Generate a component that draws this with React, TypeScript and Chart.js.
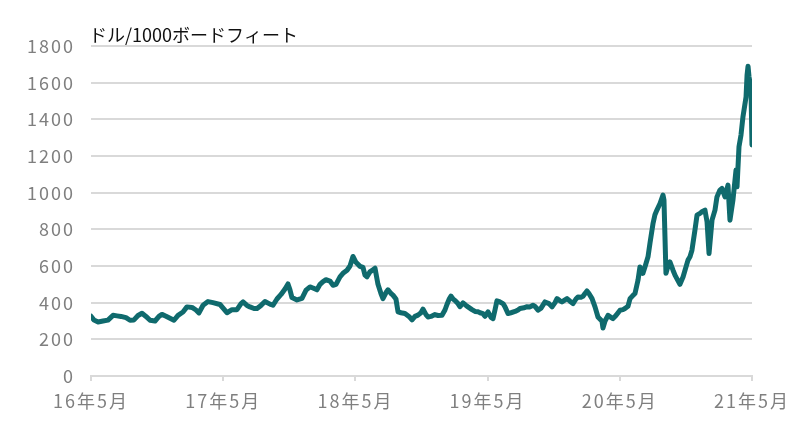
import React, { useEffect, useRef } from "react";
import { Chart, registerables } from "chart.js";

Chart.register(...registerables);

const unitLabel = "ドル/1000ボードフィート";
const xTickLabels = ["16年5月", "17年5月", "18年5月", "19年5月", "20年5月", "21年5月"];

// months elapsed since May 2016
const months = [
  0, 0.27, 0.64, 1.09, 1.54, 2.0, 2.36, 2.72, 3.18, 3.54, 3.9, 4.27, 4.63, 4.99, 5.36, 5.81,
  6.17, 6.44, 6.81, 7.17, 7.53, 7.9, 8.35, 8.71, 9.17, 9.53, 9.8, 10.17, 10.62, 11.07, 11.71,
  12.07, 12.34, 12.8, 13.25, 13.62, 13.8, 14.16, 14.43, 14.8, 15.07, 15.43, 15.79, 16.25, 16.52,
  16.88, 17.25, 17.61, 17.88, 18.06, 18.24, 18.7, 19.15, 19.52, 19.88, 20.15, 20.51, 20.79,
  21.06, 21.33, 21.69, 21.97, 22.24, 22.6, 22.87, 23.24, 23.51, 23.78, 24.05, 24.42, 24.69,
  24.87, 25.05, 25.32, 25.6, 25.78, 26.05, 26.32, 26.5, 26.78, 26.96, 27.23, 27.41, 27.68,
  27.87, 28.14, 28.5, 28.86, 29.14, 29.41, 29.68, 29.95, 30.14, 30.41, 30.59, 30.86, 31.22,
  31.5, 31.86, 32.13, 32.31, 32.5, 32.68, 32.86, 33.04, 33.31, 33.49, 33.77, 34.04, 34.22,
  34.58, 34.86, 35.13, 35.31, 35.58, 35.76, 36.04, 36.31, 36.49, 36.67, 36.85, 37.12, 37.4,
  37.58, 37.85, 38.12, 38.49, 38.76, 38.94, 39.3, 39.58, 39.85, 40.12, 40.3, 40.58, 40.85,
  41.21, 41.57, 41.85, 42.12, 42.3, 42.57, 42.75, 43.03, 43.21, 43.48, 43.75, 44.02, 44.2,
  44.48, 44.66, 44.84, 45.02, 45.2, 45.48, 45.75, 46.02, 46.2, 46.38, 46.47, 46.66, 46.93,
  47.2, 47.38, 47.65, 48.02, 48.29, 48.47, 48.74, 48.93, 49.2, 49.38, 49.65, 49.83, 50.1,
  50.29, 50.56, 50.74, 51.01, 51.19, 51.37, 51.65, 51.92, 52.01, 52.1, 52.19, 52.37, 52.55,
  52.83, 53.01, 53.19, 53.46, 53.74, 53.92, 54.19, 54.37, 54.55, 54.82, 55.01, 55.28, 55.46,
  55.73, 55.92, 56.1, 56.37, 56.64, 56.82, 57.09, 57.27, 57.55, 57.82, 58.0, 58.27, 58.55,
  58.64, 58.82, 59.0, 59.18, 59.46, 59.55, 59.64, 59.73, 59.82, 59.91, 60.0,
];

// lumber futures, USD per 1000 board feet
const prices = [
  326, 305, 295, 300, 305, 331, 328, 325, 318, 304, 306, 330, 342, 325, 304, 300,
  325, 336, 326, 315, 304, 331, 349, 377, 374, 360, 344, 386, 406, 400, 390,
  365, 345, 362, 362, 395, 404, 385, 377, 368, 368, 385, 406, 392, 386,
  420, 445, 475, 502, 470, 428, 415, 424, 468, 486, 480, 470, 500,
  515, 525, 518, 495, 500, 541, 560, 577, 600, 652, 620, 598, 592,
  550, 541, 568, 580, 588, 500, 450, 422, 455, 470, 450, 441, 420,
  350, 345, 341, 325, 306, 325, 332, 345, 365, 335, 322, 325, 335,
  330, 331, 360, 390, 418, 436, 420, 412, 395, 378, 399, 385, 377,
  362, 352, 350, 345, 340, 326, 350, 320, 313, 360, 410, 404, 395,
  377, 341, 345, 352, 360, 368, 372, 378, 377, 386, 380, 359, 370,
  404, 395, 377, 400, 422, 410, 404, 415, 422, 408, 395, 420, 431,
  430, 435, 450, 464, 450, 422, 377, 322, 310, 300, 262, 300, 331,
  320, 313, 330, 359, 362, 368, 380, 422, 440, 450, 522, 595, 560,
  596, 650, 725, 830, 880, 905, 941, 987, 960, 760, 560, 600, 622,
  577, 550, 530, 500, 540, 577, 632, 650, 686, 796, 877, 887, 896,
  905, 841, 668, 850, 905, 977, 1014, 1023, 977, 1041, 850, 959, 1123,
  1032, 1251, 1314, 1414, 1523, 1640, 1690, 1632, 1600, 1560, 1260,
];

const yMin = 0;
const yMax = 1800;
const yStep = 200;

const FONT = '"Noto Sans CJK JP", "Noto Sans", sans-serif';

const spacingPlugin = {
  id: "tickSpacing",
  beforeDraw(chart: any) {
    (chart.ctx as any).letterSpacing = "2px";
  },
};

const unitLabelPlugin = {
  id: "unitLabel",
  afterDraw(chart: any) {
    const { ctx, chartArea } = chart;
    ctx.save();
    (ctx as any).letterSpacing = "0px";
    ctx.font = `18px ${FONT}`;
    ctx.fillStyle = "#111111";
    ctx.textAlign = "left";
    ctx.textBaseline = "middle";
    ctx.fillText(unitLabel, chartArea.left - 2, chartArea.top - 11);
    ctx.restore();
  },
};

export default function App() {
  const ref = useRef<HTMLCanvasElement>(null);

  useEffect(() => {
    if (!ref.current) return;
    const chart = new Chart(ref.current, {
      type: "line",
      data: {
        datasets: [
          {
            data: months.map((m, i) => ({ x: m, y: prices[i] })),
            borderColor: "#0f6a6d",
            borderWidth: 5,
            pointRadius: 0,
            tension: 0,
            borderJoinStyle: "round",
            borderCapStyle: "round",
            fill: false,
          },
        ],
      },
      options: {
        responsive: false,
        animation: false,
        layout: { padding: { left: 0, right: 48, top: 46, bottom: 0 } },
        plugins: {
          legend: { display: false },
          tooltip: { enabled: false },
          title: { display: false },
        },
        scales: {
          x: {
            type: "linear",
            min: 0,
            max: 60,
            afterFit(scale: any) {
              scale.height = 54;
            },
            ticks: {
              stepSize: 12,
              color: "#7f7f7f",
              font: { family: FONT, size: 18 },
              padding: 9,
              maxRotation: 0,
              autoSkip: false,
              callback: (_v: any, i: number) => xTickLabels[i] ?? "",
            },
            grid: {
              drawOnChartArea: false,
              drawTicks: true,
              tickLength: 5,
              color: "#d9d9d9",
              lineWidth: 2,
            },
            border: { display: true, color: "#d9d9d9", width: 2 },
          },
          y: {
            min: yMin,
            max: yMax,
            afterFit(scale: any) {
              scale.width = 91;
            },
            ticks: {
              stepSize: yStep,
              color: "#7f7f7f",
              font: { family: FONT, size: 18 },
              padding: 16,
              callback: (v: any) => String(v),
            },
            grid: {
              drawTicks: false,
              color: "#d9d9d9",
              lineWidth: 2,
            },
            border: { display: false },
          },
        },
      },
      plugins: [spacingPlugin, unitLabelPlugin],
    });
    return () => chart.destroy();
  }, []);

  return (
    <div style={{ position: "absolute", left: 0, top: 0, width: 800, height: 430, background: "#fff" }}>
      <canvas ref={ref} width={800} height={430} />
    </div>
  );
}
